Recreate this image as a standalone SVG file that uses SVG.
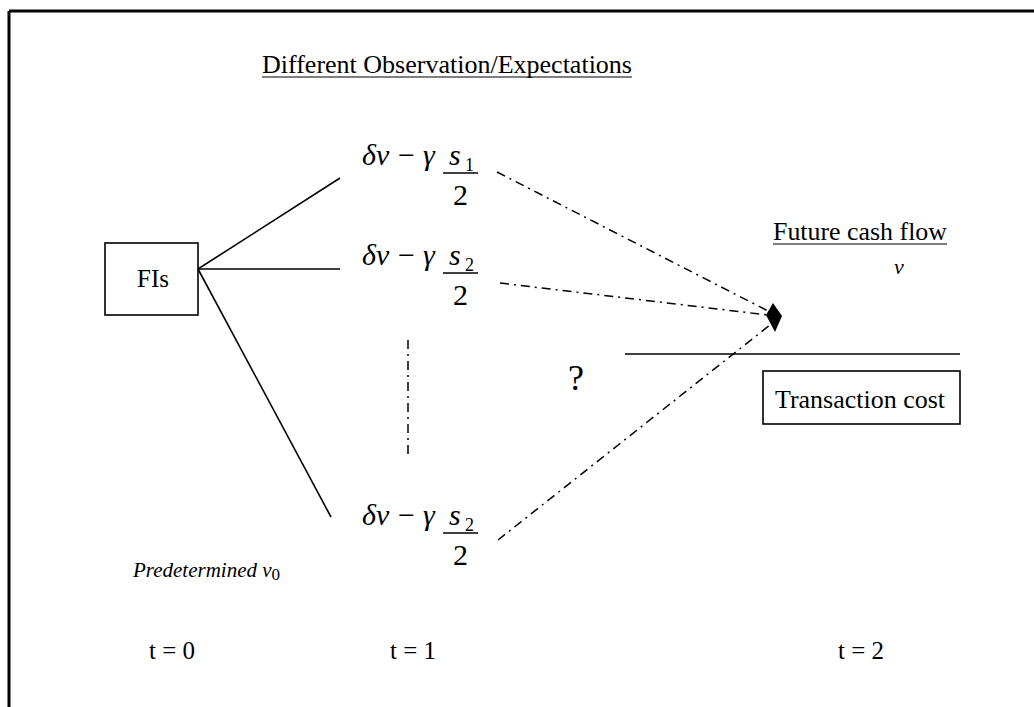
<svg xmlns="http://www.w3.org/2000/svg" width="1034" height="707" viewBox="0 0 1034 707">
<style>
text{font-family:"Liberation Serif","Times New Roman",serif;fill:#000}
.lbl{font-size:25px}
.it{font-style:italic}
.math{font-size:30px;font-family:"Liberation Serif","Times New Roman",serif}
.sub{font-size:18px}
.solid{stroke:#000;stroke-width:1.6;fill:none}
.dd{stroke:#000;stroke-width:1.5;fill:none;stroke-dasharray:9 5 2 5}
.box{fill:#fff;stroke:#000;stroke-width:1.6}
.bar{stroke:#000;stroke-width:1.5}
</style>
<rect width="1034" height="707" fill="#fff"/>
<g id="frame">
<line x1="9" y1="11" x2="1034" y2="11" stroke="#000" stroke-width="3"/>
<line x1="9" y1="11" x2="9" y2="707" stroke="#000" stroke-width="3"/>
</g>
<g id="connectors">
<line class="solid" x1="198" y1="269" x2="340" y2="178"/>
<line class="solid" x1="198" y1="269" x2="340" y2="269"/>
<line class="solid" x1="198" y1="269" x2="331" y2="517"/>
<line class="dd" x1="497" y1="172" x2="770" y2="312"/>
<line class="dd" x1="500" y1="283" x2="768" y2="315"/>
<line class="dd" x1="498" y1="540" x2="775" y2="321"/>
<line class="dd" x1="408" y1="340" x2="408" y2="455"/>
<polygon points="773,303 782,316 775,332 766,315" fill="#000"/>
<line class="solid" x1="625" y1="354" x2="960" y2="354"/>
</g>
<g id="title">
<text class="lbl" x="262" y="73" textLength="370" lengthAdjust="spacingAndGlyphs">Different Observation/Expectations</text>
<line x1="262" y1="77" x2="632" y2="77" stroke="#000" stroke-width="1.2"/>
</g>
<g id="fis">
<rect class="box" x="105" y="243" width="93" height="72"/>
<text class="lbl" x="137" y="287" font-size="27">FIs</text>
</g>
<g id="f1">
<text class="math it" x="362" y="165">δν</text>
<text class="math" x="398" y="165">−</text>
<text class="math it" x="423" y="165">γ</text>
<text class="math it" x="449" y="165">s</text>
<text class="sub" x="465" y="171">1</text>
<line class="bar" x1="443" y1="173" x2="478" y2="173"/>
<text class="math" x="453" y="205">2</text>
</g>
<g id="f2">
<text class="math it" x="362" y="265">δν</text>
<text class="math" x="398" y="265">−</text>
<text class="math it" x="423" y="265">γ</text>
<text class="math it" x="449" y="265">s</text>
<text class="sub" x="465" y="271">2</text>
<line class="bar" x1="443" y1="273" x2="478" y2="273"/>
<text class="math" x="453" y="305">2</text>
</g>
<g id="f3">
<text class="math it" x="362" y="525">δν</text>
<text class="math" x="398" y="525">−</text>
<text class="math it" x="423" y="525">γ</text>
<text class="math it" x="449" y="525">s</text>
<text class="sub" x="465" y="531">2</text>
<line class="bar" x1="443" y1="533" x2="478" y2="533"/>
<text class="math" x="453" y="565">2</text>
</g>
<g id="future">
<text class="lbl" x="773" y="240" textLength="174" lengthAdjust="spacingAndGlyphs">Future cash flow</text>
<line x1="773" y1="244" x2="947" y2="244" stroke="#000" stroke-width="1.2"/>
<text class="it" x="894" y="274" font-size="22">v</text>
</g>
<g id="question">
<text x="568" y="390" font-size="36">?</text>
</g>
<g id="transaction">
<rect class="box" x="763" y="371" width="197" height="53"/>
<text class="lbl" x="775" y="408" textLength="170" lengthAdjust="spacingAndGlyphs">Transaction cost</text>
</g>
<g id="predetermined">
<text class="it" x="133" y="577" font-size="21">Predetermined <tspan>v</tspan><tspan font-style="normal" font-size="17" dy="3">0</tspan></text>
</g>
<g id="times">
<text class="lbl" x="149" y="659" font-size="22">t = 0</text>
<text class="lbl" x="390" y="659" font-size="22">t = 1</text>
<text class="lbl" x="838" y="659" font-size="22">t = 2</text>
</g>
</svg>
